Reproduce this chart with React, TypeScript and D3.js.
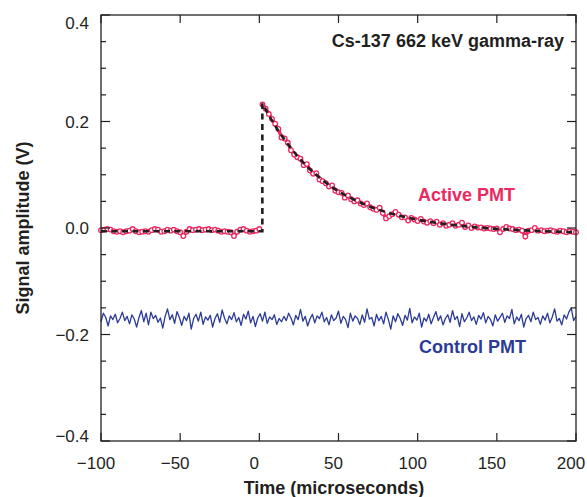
import React from "react";
import * as d3 from "d3";

const W = 587, H = 497;

const activeBaseTime = d3.range(-100, 1, 2);
const activeBaseValue = [
  -0.004, -0.003, -0.002, -0.003, -0.006, -0.007, -0.006, -0.008, -0.006, -0.005,
  -0.002, -0.006, -0.008, -0.007, -0.006, -0.007, -0.004, -0.002, -0.003, -0.007,
  -0.006, -0.003, -0.005, -0.003, -0.006, -0.008, -0.015, -0.007, -0.002, -0.004,
  -0.003, -0.002, -0.004, -0.003, -0.002, -0.004, -0.003, -0.005, -0.007, -0.006,
  -0.007, -0.008, -0.015, -0.007, -0.003, -0.002, -0.005, -0.007, -0.006, -0.005,
  -0.002,
];

const activeDecayTime = d3.range(2, 201, 2);
const activeDecayValue = [
  0.232, 0.224, 0.214, 0.205, 0.196, 0.186, 0.170, 0.168, 0.160, 0.146,
  0.138, 0.133, 0.130, 0.118, 0.120, 0.108, 0.102, 0.103, 0.091, 0.088,
  0.084, 0.078, 0.080, 0.070, 0.067, 0.066, 0.057, 0.061, 0.054, 0.050,
  0.052, 0.046, 0.043, 0.046, 0.039, 0.036, 0.034, 0.038, 0.028, 0.018,
  0.022, 0.026, 0.030, 0.025, 0.020, 0.020, 0.014, 0.019, 0.016, 0.013,
  0.017, 0.012, 0.010, 0.013, 0.009, 0.012, 0.006, 0.009, 0.004, 0.006,
  0.009, 0.004, 0.006, 0.010, 0.002, 0.005, 0.000, 0.003, 0.001, 0.001,
  -0.001, 0.000, -0.001, -0.002, -0.001, -0.008, -0.002, 0.002, -0.001, -0.002,
  -0.004, -0.003, -0.005, -0.016, -0.005, -0.004, 0.000, -0.005, -0.004, -0.006,
  -0.005, -0.004, -0.006, -0.007, -0.005, -0.006, -0.008, -0.006, -0.007, -0.008,
];

const fitRiseTime = [-100, 1.9, 1.9];
const fitRiseValue = [-0.006, -0.006, 0.234];
const fitDecayTime = [1.9, 6, 10, 15, 20, 30, 40, 50, 60, 70, 80, 90, 100, 120, 140, 160, 180, 200];
const fitDecayValue = [0.234, 0.212, 0.192, 0.170, 0.150, 0.116, 0.090, 0.069, 0.053, 0.040, 0.030, 0.022, 0.0155, 0.0066, 0.0005, -0.0035, -0.006, -0.008];

const controlTime = d3.range(-100, 200.01, 1.5);
const controlValue = [
  -0.176, -0.160, -0.168, -0.184, -0.165, -0.172, -0.162, -0.178, -0.170, -0.158,
  -0.174, -0.166, -0.180, -0.163, -0.171, -0.186, -0.168, -0.155, -0.176, -0.160,
  -0.182, -0.158, -0.170, -0.164, -0.177, -0.169, -0.188, -0.166, -0.152, -0.172,
  -0.163, -0.179, -0.157, -0.168, -0.183, -0.166, -0.174, -0.160, -0.190, -0.170,
  -0.162, -0.175, -0.158, -0.181, -0.167, -0.173, -0.164, -0.186, -0.170, -0.161,
  -0.177, -0.154, -0.169, -0.180, -0.165, -0.172, -0.159, -0.176, -0.168, -0.183,
  -0.162, -0.171, -0.156, -0.178, -0.166, -0.185, -0.169, -0.161, -0.175, -0.158,
  -0.179, -0.167, -0.172, -0.163, -0.181, -0.170, -0.176, -0.166, -0.174, -0.160,
  -0.169, -0.182, -0.164, -0.172, -0.153, -0.175, -0.166, -0.184, -0.171, -0.162,
  -0.178, -0.165, -0.170, -0.158, -0.176, -0.168, -0.182, -0.163, -0.174, -0.169,
  -0.156, -0.179, -0.166, -0.172, -0.187, -0.160, -0.175, -0.165, -0.170, -0.181,
  -0.163, -0.177, -0.152, -0.171, -0.168, -0.184, -0.162, -0.174, -0.166, -0.180,
  -0.158, -0.172, -0.190, -0.165, -0.176, -0.161, -0.170, -0.183, -0.164, -0.173,
  -0.151, -0.178, -0.167, -0.173, -0.160, -0.186, -0.169, -0.175, -0.162, -0.180,
  -0.168, -0.157, -0.174, -0.165, -0.182, -0.170, -0.163, -0.177, -0.155, -0.172,
  -0.166, -0.185, -0.161, -0.176, -0.169, -0.158, -0.174, -0.167, -0.181, -0.164,
  -0.171, -0.159, -0.178, -0.166, -0.172, -0.184, -0.163, -0.175, -0.168, -0.160,
  -0.177, -0.165, -0.170, -0.153, -0.180, -0.167, -0.174, -0.162, -0.186, -0.170,
  -0.164, -0.176, -0.158, -0.172, -0.168, -0.181, -0.165, -0.173, -0.160, -0.178,
  -0.167, -0.152, -0.175, -0.170, -0.182, -0.163, -0.171, -0.158, -0.150, -0.174,
  -0.166,
];

const xTicks = [-100, -50, 0, 50, 100, 150, 200];
const yTicks = [-0.4, -0.2, 0.0, 0.2, 0.4];
const yMinorTicks = d3.range(-0.4, 0.4001, 0.05);

const PINK = "#ec2860";
const BLUE = "#2c3a98";
const INK = "#231f20";
const FONT = "Liberation Sans, Arial, sans-serif";

export default function App() {
  const x = d3.scaleLinear().domain([-100, 200]).range([101, 576]);
  const y = d3.scaleLinear().domain([-0.4, 0.4]).range([441, 15]);
  const [x0, x1] = x.range();
  const [y0, y1] = y.range();

  const line = d3.line<[number, number]>().x((d) => x(d[0])).y((d) => y(d[1]));
  const mono = d3.line<[number, number]>().x((d) => x(d[0])).y((d) => y(d[1])).curve(d3.curveMonotoneX);

  const base = activeBaseTime.map((t, i) => [t, activeBaseValue[i]] as [number, number]);
  const decay = activeDecayTime.map((t, i) => [t, activeDecayValue[i]] as [number, number]);
  const control = controlTime.map((t, i) => [t, controlValue[i]] as [number, number]).filter((d) => d[1] !== undefined);
  const fitRise = fitRiseTime.map((t, i) => [t, fitRiseValue[i]] as [number, number]);
  const fitDecay = fitDecayTime.map((t, i) => [t, fitDecayValue[i]] as [number, number]);
  const fitPath = (line(fitRise) || "") + (mono(fitDecay) || "").replace(/^M/, "L");

  const fmtY = (v: number) => (Math.abs(v) < 1e-9 ? "0.0" : (v < 0 ? "\u2212" : "") + Math.abs(v).toFixed(1));
  const fmtX = (v: number) => (v < 0 ? "\u2212" : "") + Math.abs(v);

  return (
    <svg width={W} height={H} style={{ position: "absolute", left: 0, top: 0, background: "#fff" }} fontFamily={FONT}>
      <rect width={W} height={H} fill="#fff" />
      {/* control PMT */}
      <path d={line(control) || ""} fill="none" stroke={BLUE} strokeWidth={1.3} strokeLinejoin="round" />
      {/* active PMT */}
      <path d={line(base) || ""} fill="none" stroke={PINK} strokeWidth={3.4} />
      <path d={line(decay) || ""} fill="none" stroke={PINK} strokeWidth={3.4} />
      {base.concat(decay).map((d, i) => (
        <circle key={i} cx={x(d[0])} cy={y(d[1])} r={2.3} fill="#fff" stroke={PINK} strokeWidth={1.3} />
      ))}
      {/* fit */}
      <path d={fitPath} fill="none" stroke={INK} strokeWidth={2.6} strokeDasharray="6,4.5" />

      {/* frame */}
      <rect x={x0} y={y1} width={x1 - x0} height={y0 - y1} fill="none" stroke={INK} strokeWidth={1.3} />
      {yMinorTicks.map((v, i) => {
        const major = Math.abs(Math.round(v * 10) - v * 10) < 1e-6 && Math.round(v * 10) % 2 === 0;
        const len = major ? 9 : 5;
        return (
          <g key={i} stroke={INK} strokeWidth={1.2}>
            <line x1={x0} x2={x0 + len} y1={y(v)} y2={y(v)} />
            <line x1={x1} x2={x1 - len} y1={y(v)} y2={y(v)} />
          </g>
        );
      })}
      {xTicks.map((v, i) => (
        <g key={i} stroke={INK} strokeWidth={1.2}>
          <line x1={x(v)} x2={x(v)} y1={y0} y2={y0 - 8} />
          <line x1={x(v)} x2={x(v)} y1={y1} y2={y1 + 8} />
        </g>
      ))}
      {yTicks.map((v, i) => (
        <text key={i} x={89} y={Math.min(Math.max(y(v), 22.5), 436)} dy="0.36em" textAnchor="end" fontSize={17} fill={INK}>
          {fmtY(v)}
        </text>
      ))}
      {xTicks.map((v, i) => (
        <text key={i} x={x(v) - 5} y={469} textAnchor="middle" fontSize={17} fill={INK}>
          {fmtX(v)}
        </text>
      ))}
      <text x={334} y={494} textAnchor="middle" fontSize={18} fontWeight="bold" fill={INK}>
        Time (microseconds)
      </text>
      <text transform="translate(29,228) rotate(-90)" textAnchor="middle" fontSize={18} fontWeight="bold" fill={INK}>
        Signal amplitude (V)
      </text>
      <text x={564} y={47} textAnchor="end" fontSize={18} fontWeight="bold" fill={INK}>
        Cs-137 662 keV gamma-ray
      </text>
      <text x={418} y={201} fontSize={18} fontWeight="bold" fill={PINK}>
        Active PMT
      </text>
      <text x={419} y={353} fontSize={18} fontWeight="bold" fill={BLUE}>
        Control PMT
      </text>
    </svg>
  );
}
